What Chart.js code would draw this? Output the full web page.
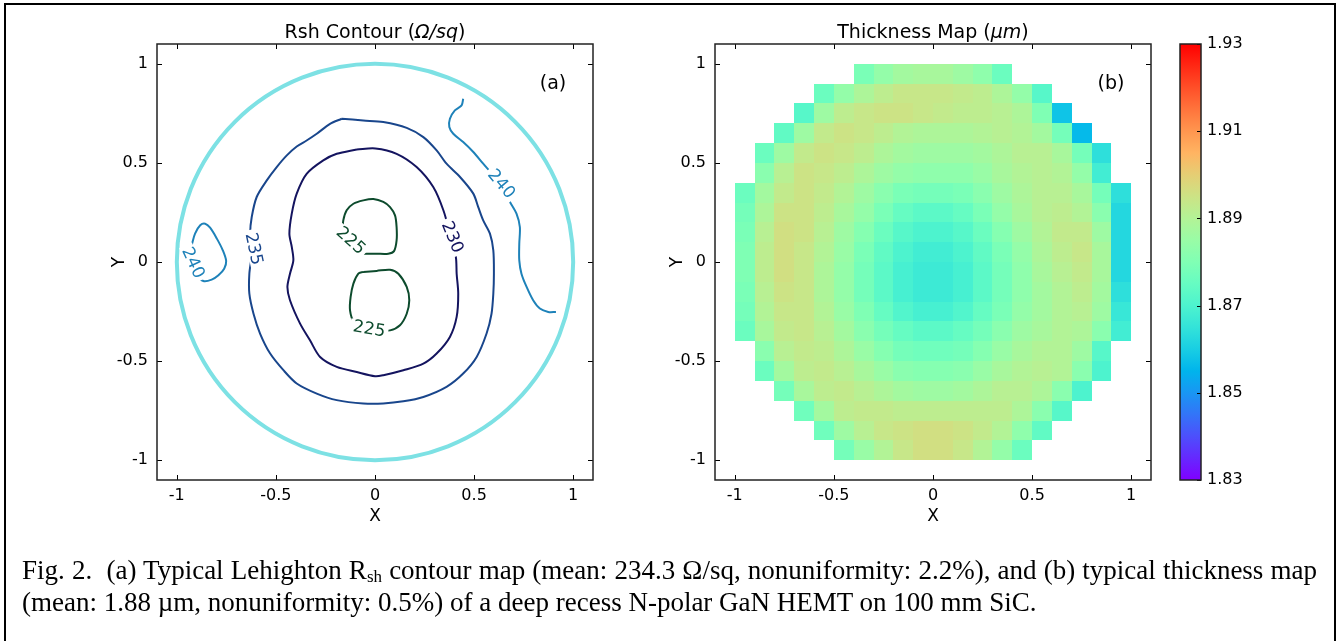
<!DOCTYPE html>
<html>
<head>
<meta charset="utf-8">
<script src="https://cdn.jsdelivr.net/npm/chart.js@4/dist/chart.umd.min.js"></script>
<style>
body{margin:0;background:#fff;width:1338px;height:641px;overflow:hidden;position:relative;}
#frame{position:absolute;left:4px;top:3px;width:1332px;height:700px;border:2px solid #000;box-sizing:border-box;}
canvas{position:absolute;top:0;}
#caption{position:absolute;left:22px;top:554px;width:1295px;font-family:"Liberation Serif";font-size:27px;line-height:32px;color:#000;}
#caption .l1{text-align:justify;text-align-last:justify;white-space:nowrap;}
#caption sub{font-size:17px;vertical-align:-3px;line-height:0;}
</style>
</head>
<body>
<div id="frame"></div>
<canvas id="rsh" width="660" height="560" style="left:0px"></canvas>
<canvas id="thick" width="660" height="560" style="left:558px"></canvas>
<canvas id="cbar" width="130" height="560" style="left:1160px"></canvas>
<div id="caption">
  <div class="l1">Fig. 2.&nbsp; (a) Typical Lehighton R<sub>sh</sub> contour map (mean: 234.3 Ω/sq, nonuniformity: 2.2%), and (b) typical thickness map</div>
  <div>(mean: 1.88 µm, nonuniformity: 0.5%) of a deep recess N-polar GaN HEMT on 100 mm SiC.</div>
</div>
<script>
// axis ticks (both panels)
var tickValues = [-1, -0.5, 0, 0.5, 1];
var waferRadius = 1;

// Rsh contours, points (x, y)
var contour225a = [[-0.059,0.042],[0.008,0.042],[0.067,0.042],[0.096,0.055],[0.109,0.109],[0.109,0.176],[0.101,0.235],[0.076,0.277],[0.042,0.303],[-0.008,0.318],[-0.059,0.311],[-0.109,0.294],[-0.143,0.261],[-0.160,0.210],[-0.163,0.160],[-0.143,0.101],[-0.101,0.059],[-0.059,0.042]];
var contour225b = [[-0.059,-0.050],[0.008,-0.045],[0.076,-0.039],[0.118,-0.059],[0.160,-0.126],[0.173,-0.193],[0.160,-0.261],[0.126,-0.319],[0.076,-0.345],[0.008,-0.345],[-0.059,-0.331],[-0.106,-0.303],[-0.126,-0.244],[-0.123,-0.176],[-0.109,-0.109],[-0.084,-0.059],[-0.059,-0.050]];
var contour230 = [[-0.092,0.568],[0.002,0.573],[0.109,0.546],[0.210,0.479],[0.294,0.378],[0.345,0.261],[0.378,0.143],[0.408,0.025],[0.412,-0.059],[0.420,-0.160],[0.412,-0.277],[0.378,-0.378],[0.311,-0.462],[0.244,-0.513],[0.143,-0.546],[0.042,-0.571],[0,-0.576],[-0.092,-0.555],[-0.193,-0.529],[-0.277,-0.479],[-0.328,-0.395],[-0.378,-0.311],[-0.429,-0.193],[-0.442,-0.126],[-0.429,-0.059],[-0.412,0.008],[-0.420,0.076],[-0.432,0.143],[-0.420,0.244],[-0.395,0.345],[-0.345,0.445],[-0.261,0.513],[-0.193,0.546],[-0.092,0.568]];
var contour235 = [[-0.168,0.723],[-0.059,0.714],[0.042,0.706],[0.160,0.677],[0.244,0.630],[0.311,0.563],[0.361,0.496],[0.429,0.429],[0.496,0.345],[0.521,0.277],[0.546,0.210],[0.580,0.143],[0.597,0.059],[0.600,-0.059],[0.597,-0.160],[0.588,-0.261],[0.563,-0.361],[0.513,-0.479],[0.445,-0.563],[0.361,-0.630],[0.244,-0.681],[0.143,-0.703],[0.042,-0.714],[-0.059,-0.714],[-0.193,-0.697],[-0.294,-0.664],[-0.395,-0.613],[-0.462,-0.546],[-0.529,-0.462],[-0.580,-0.361],[-0.613,-0.261],[-0.634,-0.160],[-0.634,-0.059],[-0.622,0.042],[-0.630,0.143],[-0.622,0.227],[-0.597,0.328],[-0.546,0.412],[-0.496,0.479],[-0.445,0.538],[-0.395,0.583],[-0.345,0.613],[-0.294,0.647],[-0.227,0.697],[-0.168,0.723]];
var contour240a = [[-0.924,0.089],[-0.908,0.143],[-0.882,0.185],[-0.857,0.193],[-0.832,0.173],[-0.798,0.118],[-0.768,0.059],[-0.751,0.005],[-0.761,-0.034],[-0.790,-0.067],[-0.824,-0.089],[-0.866,-0.096],[-0.905,-0.060],[-0.924,0.000],[-0.924,0.089]];
var contour240b = [[0.445,0.824],[0.437,0.790],[0.403,0.765],[0.378,0.723],[0.375,0.681],[0.395,0.647],[0.445,0.605],[0.496,0.555],[0.546,0.496],[0.597,0.437],[0.647,0.370],[0.681,0.303],[0.714,0.244],[0.731,0.176],[0.728,0.092],[0.728,0.008],[0.739,-0.059],[0.765,-0.126],[0.798,-0.193],[0.832,-0.235],[0.874,-0.252],[0.913,-0.252]];

var contourColors = {225:'#0d4b2d', 230:'#14145f', 235:'#19468c', 240:'#1e82b9', edge:'#7de1e4'};

var contourLabels = [
  {text:'225', x:-0.121, y:0.109, angle:42, level:225},
  {text:'225', x:-0.029, y:-0.336, angle:10, level:225},
  {text:'230', x:0.392, y:0.126, angle:68, level:230},
  {text:'235', x:-0.610, y:0.067, angle:78, level:235},
  {text:'240', x:0.639, y:0.395, angle:50, level:240},
  {text:'240', x:-0.916, y:-0.003, angle:65, level:240}
];

// thickness map, cell centres and values (um)
var mapX = [-0.95,-0.85,-0.75,-0.65,-0.55,-0.45,-0.35,-0.25,-0.15,-0.05,0.05,0.15,0.25,0.35,0.45,0.55,0.65,0.75,0.85,0.95];
var mapY = [0.95,0.85,0.75,0.65,0.55,0.45,0.35,0.25,0.15,0.05,-0.05,-0.15,-0.25,-0.35,-0.45,-0.55,-0.65,-0.75,-0.85,-0.95];
var n = null;
var thickness = [
  [n,n,n,n,n,n,1.879,1.884,1.887,1.888,1.888,1.886,1.883,1.876,n,n,n,n,n,n],
  [n,n,n,n,1.876,1.884,1.889,1.892,1.894,1.894,1.894,1.893,1.892,1.889,1.884,1.872,n,n,n,n],
  [n,n,n,1.872,1.886,1.892,1.894,1.895,1.895,1.894,1.893,1.892,1.892,1.891,1.889,1.880,1.858,n,n,n],
  [n,n,1.874,1.886,1.893,1.895,1.894,1.892,1.890,1.889,1.889,1.889,1.890,1.891,1.890,1.887,1.878,1.856,n,n],
  [n,1.876,1.886,1.893,1.895,1.894,1.892,1.889,1.887,1.886,1.886,1.886,1.887,1.889,1.891,1.891,1.888,1.878,1.864,n],
  [n,1.882,1.891,1.895,1.894,1.892,1.889,1.886,1.884,1.883,1.883,1.883,1.885,1.888,1.890,1.891,1.890,1.884,1.868,n],
  [1.876,1.887,1.893,1.895,1.893,1.890,1.886,1.882,1.879,1.878,1.878,1.879,1.882,1.886,1.889,1.891,1.891,1.888,1.878,1.864],
  [1.878,1.889,1.895,1.895,1.892,1.888,1.884,1.879,1.875,1.873,1.873,1.875,1.879,1.884,1.888,1.891,1.892,1.890,1.882,1.862],
  [1.879,1.891,1.896,1.895,1.891,1.886,1.881,1.876,1.872,1.870,1.870,1.872,1.876,1.881,1.886,1.890,1.893,1.893,1.886,1.862],
  [1.880,1.892,1.896,1.894,1.890,1.885,1.879,1.874,1.870,1.868,1.868,1.870,1.874,1.879,1.884,1.889,1.892,1.894,1.888,1.862],
  [1.880,1.892,1.896,1.894,1.889,1.884,1.878,1.873,1.869,1.867,1.867,1.869,1.873,1.878,1.883,1.888,1.891,1.893,1.888,1.862],
  [1.879,1.891,1.895,1.894,1.889,1.884,1.878,1.873,1.869,1.867,1.867,1.869,1.873,1.878,1.883,1.887,1.890,1.892,1.887,1.864],
  [1.878,1.890,1.894,1.894,1.890,1.885,1.880,1.875,1.871,1.869,1.869,1.871,1.875,1.879,1.884,1.887,1.890,1.891,1.886,1.866],
  [1.876,1.888,1.893,1.894,1.891,1.887,1.882,1.878,1.875,1.873,1.873,1.875,1.878,1.882,1.886,1.888,1.890,1.889,1.882,1.868],
  [n,1.882,1.891,1.893,1.892,1.889,1.885,1.881,1.878,1.877,1.877,1.878,1.881,1.885,1.888,1.890,1.890,1.886,1.872,n],
  [n,1.876,1.887,1.892,1.893,1.891,1.888,1.885,1.882,1.881,1.881,1.882,1.885,1.888,1.890,1.891,1.890,1.882,1.870,n],
  [n,n,1.878,1.888,1.892,1.893,1.891,1.889,1.887,1.886,1.886,1.887,1.889,1.891,1.891,1.889,1.882,1.870,n,n],
  [n,n,n,1.877,1.887,1.892,1.893,1.893,1.892,1.892,1.892,1.892,1.892,1.892,1.889,1.882,1.872,n,n,n],
  [n,n,n,n,1.877,1.886,1.891,1.894,1.895,1.896,1.896,1.895,1.893,1.890,1.883,1.874,n,n,n,n],
  [n,n,n,n,n,1.878,1.885,1.890,1.894,1.896,1.896,1.894,1.890,1.884,1.876,n,n,n,n,n]
];
var cellSize = 0.1;

// colour bar
var cbMin = 1.83, cbMax = 1.93;
var cbTicks = [1.83, 1.85, 1.87, 1.89, 1.91, 1.93];

function rainbow(t) {
    t = Math.max(0, Math.min(1, t));
    var r = Math.min(1, Math.abs(2 * t - 0.5));
    var g = Math.sin(Math.PI * t);
    var b = Math.cos(Math.PI * t / 2);
    return 'rgb(' + Math.round(r * 255) + ',' + Math.round(g * 255) + ',' + Math.round(b * 255) + ')';
}

function pts(arr) {
    return arr.map(function (p) { return {x: p[0], y: p[1]}; });
}

function lineSet(arr, col) {
    return {data: pts(arr), showLine: true, pointRadius: 0, borderColor: col, borderWidth: 2, tension: 0.3, fill: false};
}

var FONT = 'DejaVu Sans';

// frame, inward ticks, titles, axis labels
var framePlugin = {
    id: 'frame',
    afterDraw: function (chart, args, opts) {
        var ctx = chart.ctx, a = chart.chartArea;
        var xs = chart.scales.x, ys = chart.scales.y;
        ctx.save();
        ctx.strokeStyle = '#000';
        ctx.lineWidth = 1;
        tickValues.forEach(function (v) {
            var px = Math.round(xs.getPixelForValue(v)) + 0.5;
            var py = Math.round(ys.getPixelForValue(v)) + 0.5;
            ctx.beginPath();
            ctx.moveTo(px, a.bottom); ctx.lineTo(px, a.bottom - 5);
            ctx.moveTo(px, a.top); ctx.lineTo(px, a.top + 5);
            ctx.moveTo(a.left, py); ctx.lineTo(a.left + 5, py);
            ctx.moveTo(a.right, py); ctx.lineTo(a.right - 5, py);
            ctx.stroke();
        });
        ctx.lineWidth = 1.5;
        ctx.strokeStyle = '#222';
        ctx.strokeRect(a.left, a.top, a.right - a.left, a.bottom - a.top);

        // title with italic unit part
        ctx.fillStyle = '#000';
        ctx.textBaseline = 'alphabetic';
        var parts = opts.title, w = 0;
        parts.forEach(function (p) {
            ctx.font = (p.italic ? 'italic ' : '') + '19px "' + FONT + '"';
            p.w = ctx.measureText(p.text).width;
            w += p.w;
        });
        var x0 = (a.left + a.right) / 2 - w / 2;
        parts.forEach(function (p) {
            ctx.font = (p.italic ? 'italic ' : '') + '19px "' + FONT + '"';
            ctx.textAlign = 'left';
            ctx.fillText(p.text, x0, 38);
            x0 += p.w;
        });

        ctx.font = '17px "' + FONT + '"';
        ctx.textAlign = 'center';
        ctx.textBaseline = 'middle';
        ctx.fillText('X', (a.left + a.right) / 2, 517);
        ctx.save();
        ctx.translate(a.left - 37, (a.top + a.bottom) / 2);
        ctx.rotate(-Math.PI / 2);
        ctx.fillText('Y', 0, 0);
        ctx.restore();

        ctx.font = '19px "' + FONT + '"';
        ctx.fillText(opts.tag, a.right - 40, 84);
        ctx.restore();
    }
};

// wafer edge circle and inline contour labels
var contourPlugin = {
    id: 'contourExtras',
    afterDatasetsDraw: function (chart) {
        var ctx = chart.ctx, xs = chart.scales.x, ys = chart.scales.y;
        var cx = xs.getPixelForValue(0), cy = ys.getPixelForValue(0);
        var rx = xs.getPixelForValue(waferRadius) - cx, ry = cy - ys.getPixelForValue(waferRadius);
        ctx.save();
        ctx.strokeStyle = contourColors.edge;
        ctx.lineWidth = 4;
        ctx.beginPath();
        ctx.ellipse(cx, cy, rx, ry, 0, 0, Math.PI * 2);
        ctx.stroke();

        ctx.font = '17px "' + FONT + '"';
        ctx.textAlign = 'center';
        ctx.textBaseline = 'middle';
        contourLabels.forEach(function (l) {
            var px = xs.getPixelForValue(l.x), py = ys.getPixelForValue(l.y);
            var tw = ctx.measureText(l.text).width;
            ctx.save();
            ctx.translate(px, py);
            ctx.rotate(l.angle * Math.PI / 180);
            ctx.fillStyle = '#fff';
            ctx.fillRect(-tw / 2 - 3, -7, tw + 6, 14);
            ctx.fillStyle = contourColors[l.level];
            ctx.fillText(l.text, 0, 1);
            ctx.restore();
        });
        ctx.restore();
    }
};

// thickness cells drawn through the scales
var heatPlugin = {
    id: 'heat',
    beforeDatasetsDraw: function (chart) {
        var ctx = chart.ctx, xs = chart.scales.x, ys = chart.scales.y;
        ctx.save();
        for (var j = 0; j < mapY.length; j++) {
            for (var i = 0; i < mapX.length; i++) {
                var v = thickness[j][i];
                if (v === null) continue;
                var x0 = Math.round(xs.getPixelForValue(mapX[i] - cellSize / 2));
                var x1 = Math.round(xs.getPixelForValue(mapX[i] + cellSize / 2));
                var y0 = Math.round(ys.getPixelForValue(mapY[j] + cellSize / 2));
                var y1 = Math.round(ys.getPixelForValue(mapY[j] - cellSize / 2));
                ctx.fillStyle = rainbow((v - cbMin) / (cbMax - cbMin));
                ctx.fillRect(x0, y0, x1 - x0, y1 - y0);
            }
        }
        ctx.restore();
    }
};

// colour bar gradient, frame and ticks
var cbarPlugin = {
    id: 'cbar',
    beforeDatasetsDraw: function (chart) {
        var ctx = chart.ctx, a = chart.chartArea, ys = chart.scales.y;
        ctx.save();
        var g = ctx.createLinearGradient(0, a.bottom, 0, a.top);
        for (var k = 0; k <= 20; k++) g.addColorStop(k / 20, rainbow(k / 20));
        ctx.fillStyle = g;
        ctx.fillRect(a.left, a.top, a.right - a.left, a.bottom - a.top);
        ctx.strokeStyle = '#000';
        ctx.lineWidth = 1;
        cbTicks.forEach(function (v) {
            var py = Math.round(ys.getPixelForValue(v)) + 0.5;
            ctx.beginPath();
            ctx.moveTo(a.right - 4, py); ctx.lineTo(a.right, py);
            ctx.stroke();
        });
        ctx.lineWidth = 1.5;
        ctx.strokeStyle = '#222';
        ctx.strokeRect(a.left, a.top, a.right - a.left, a.bottom - a.top);
        ctx.restore();
    }
};

function axisOpts(isX) {
    return {
        type: 'linear', min: -1.1, max: 1.1,
        afterBuildTicks: function (s) { s.ticks = tickValues.map(function (v) { return {value: v}; }); },
        afterFit: function (s) { if (isX) s.height = 50; else s.width = 60; },
        grid: {display: false, drawTicks: false}, border: {display: false},
        ticks: {color: '#000', font: {family: FONT, size: 16}, padding: isX ? 6 : 9, maxRotation: 0,
            callback: function (v) { return String(v); }}
    };
}

function panelOpts(title, tag) {
    return {
        responsive: false, animation: false, devicePixelRatio: 1,
        layout: {padding: {left: 97, right: 67, top: 44, bottom: 30}},
        plugins: {legend: {display: false}, tooltip: {enabled: false}, frame: {title: title, tag: tag}},
        scales: {x: axisOpts(true), y: axisOpts(false)}
    };
}

new Chart(document.getElementById('rsh'), {
    type: 'scatter',
    data: {datasets: [
        lineSet(contour225a, contourColors[225]),
        lineSet(contour225b, contourColors[225]),
        lineSet(contour230, contourColors[230]),
        lineSet(contour235, contourColors[235]),
        lineSet(contour240a, contourColors[240]),
        lineSet(contour240b, contourColors[240])
    ]},
    options: panelOpts([{text: 'Rsh Contour ('}, {text: 'Ω/sq', italic: true}, {text: ')'}], '(a)'),
    plugins: [contourPlugin, framePlugin]
});

new Chart(document.getElementById('thick'), {
    type: 'scatter',
    data: {datasets: []},
    options: panelOpts([{text: 'Thickness Map ('}, {text: 'μm', italic: true}, {text: ')'}], '(b)'),
    plugins: [heatPlugin, framePlugin]
});

new Chart(document.getElementById('cbar'), {
    type: 'scatter',
    data: {datasets: []},
    options: {
        responsive: false, animation: false, devicePixelRatio: 1,
        layout: {padding: {left: 20, right: 0, top: 44, bottom: 80}},
        plugins: {legend: {display: false}, tooltip: {enabled: false}},
        scales: {
            x: {display: false, min: 0, max: 1},
            y: {position: 'right', min: cbMin, max: cbMax,
                afterBuildTicks: function (s) { s.ticks = cbTicks.map(function (v) { return {value: v}; }); },
                afterFit: function (s) { s.width = 89; },
                grid: {display: false, drawTicks: false}, border: {display: false},
                ticks: {color: '#000', font: {family: FONT, size: 16}, padding: 6,
                    callback: function (v) { return v.toFixed(2); }}}
        }
    },
    plugins: [cbarPlugin]
});
</script>
</body>
</html>
